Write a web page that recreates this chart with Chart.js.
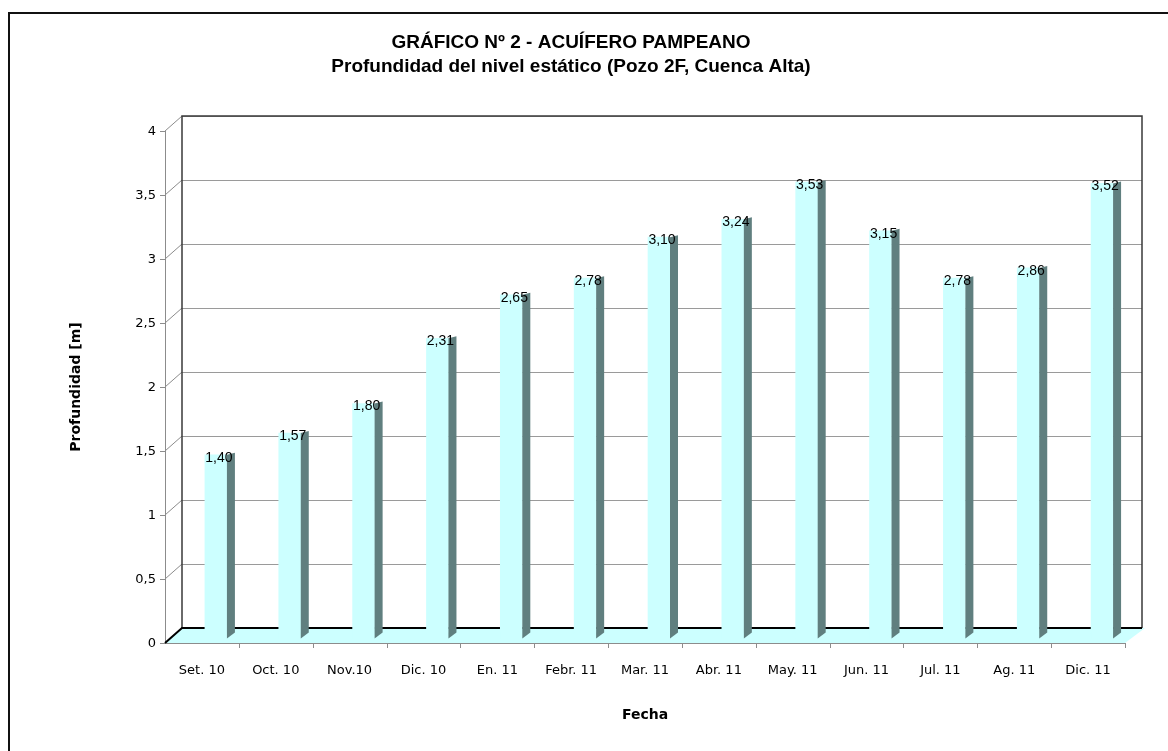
<!DOCTYPE html>
<html>
<head>
<meta charset="utf-8">
<title>Acuífero Pampeano - Pozo 2F</title>
<script src="https://cdn.jsdelivr.net/npm/chart.js@4.4.0/dist/chart.umd.min.js"></script>
<style>
  html, body { margin: 0; padding: 0; background: #fff; }
  canvas { display: block; }
</style>
</head>
<body>
<canvas id="grafico" width="1168" height="751"></canvas>
<script>
const fechas = ['Set. 10', 'Oct. 10', 'Nov.10', 'Dic. 10', 'En. 11', 'Febr. 11', 'Mar. 11',
  'Abr. 11', 'May. 11', 'Jun. 11', 'Jul. 11', 'Ag. 11', 'Dic. 11'];
const profundidad = [1.40, 1.57, 1.80, 2.31, 2.65, 2.78, 3.10, 3.24, 3.53, 3.15, 2.78, 2.86, 3.52];
const titulo = 'GRÁFICO Nº 2 - ACUÍFERO PAMPEANO';
const subtitulo = 'Profundidad del nivel estático (Pozo 2F, Cuenca Alta)';
const tituloEjeY = 'Profundidad [m]';
const tituloEjeX = 'Fecha';

const coma = v => String(v).replace('.', ',');

// desplazamiento pared del fondo -> frente (falso 3D)
const DX = -17, DY = 15;
// las barras quedan a media profundidad
const BAR_DX = -3, BAR_DY = 6;
const LADO = 8;

const efecto3d = {
  id: 'efecto3d',
  beforeDraw(chart) {
    const ctx = chart.ctx;
    ctx.save();
    ctx.fillStyle = '#fff';
    ctx.fillRect(0, 0, chart.width, chart.height);
    // marco exterior (solo izquierda y arriba quedan dentro de la imagen)
    ctx.strokeStyle = '#111';
    ctx.lineWidth = 2;
    ctx.beginPath();
    ctx.moveTo(9, chart.height);
    ctx.lineTo(9, 13);
    ctx.lineTo(chart.width, 13);
    ctx.stroke();
    ctx.restore();
  },
  beforeDatasetsDraw(chart) {
    const ctx = chart.ctx;
    const { left, right, top, bottom } = chart.chartArea;
    const y = chart.scales.y;
    const n = fechas.length;
    const paso = (right - left) / n;

    ctx.save();
    // piso
    ctx.fillStyle = '#ccffff';
    ctx.beginPath();
    ctx.moveTo(left, bottom);
    ctx.lineTo(right + 3, bottom);
    ctx.lineTo(right + DX, bottom + DY);
    ctx.lineTo(left + DX, bottom + DY);
    ctx.closePath();
    ctx.fill();

    // pared izquierda: eje frontal y uniones
    ctx.strokeStyle = '#8c8c8c';
    ctx.lineWidth = 1;
    ctx.beginPath();
    ctx.moveTo(left + DX + 0.5, y.getPixelForValue(4) + DY);
    ctx.lineTo(left + DX + 0.5, bottom + DY);
    y.ticks.forEach(t => {
      const py = y.getPixelForValue(t.value);
      ctx.moveTo(left + DX - 5, py + DY + 0.5);
      ctx.lineTo(left + DX, py + DY + 0.5);
      if (t.value > 0) {
        ctx.moveTo(left + DX, py + DY);
        ctx.lineTo(left, py);
      }
    });
    // eje x frontal
    ctx.moveTo(left + DX, bottom + DY + 0.5);
    ctx.lineTo(right + DX, bottom + DY + 0.5);
    for (let k = 1; k <= n; k++) {
      const px = Math.round(left + DX + k * paso) + 0.5;
      ctx.moveTo(px, bottom + DY);
      ctx.lineTo(px, bottom + DY + 5);
    }
    ctx.stroke();

    // marco de la pared del fondo
    ctx.strokeStyle = '#3a3a3a';
    ctx.lineWidth = 1.5;
    ctx.beginPath();
    ctx.moveTo(left, bottom);
    ctx.lineTo(left, top);
    ctx.lineTo(right, top);
    ctx.lineTo(right, bottom);
    ctx.stroke();
    ctx.strokeStyle = '#000';
    ctx.lineWidth = 2;
    ctx.beginPath();
    ctx.moveTo(left + DX, bottom + DY);
    ctx.lineTo(left, bottom);
    ctx.lineTo(right, bottom);
    ctx.stroke();
    ctx.restore();

    ctx.save();
    ctx.translate(BAR_DX, BAR_DY);
  },
  afterDatasetsDraw(chart) {
    const ctx = chart.ctx;
    const meta = chart.getDatasetMeta(0);
    meta.data.forEach((bar, i) => {
      const { x, y, base, width } = bar.getProps(['x', 'y', 'base', 'width'], true);
      const xr = x + width / 2;
      ctx.fillStyle = '#ccffff';
      ctx.fillRect(x - width / 2, base - 1, width, 6);
      ctx.fillStyle = '#607f7f';
      ctx.beginPath();
      ctx.moveTo(xr, y);
      ctx.lineTo(xr + LADO, y - 2);
      ctx.lineTo(xr + LADO, base - 1);
      ctx.lineTo(xr, base + 5);
      ctx.closePath();
      ctx.fill();
    });
    ctx.fillStyle = '#000';
    ctx.font = '14px "Liberation Sans", Arial, sans-serif';
    ctx.textAlign = 'center';
    ctx.textBaseline = 'middle';
    meta.data.forEach((bar, i) => {
      ctx.fillText(profundidad[i].toFixed(2).replace('.', ','), bar.x + 3, bar.y + 3);
    });
    ctx.restore();
  },
  afterDraw(chart) {
    const ctx = chart.ctx;
    const { left, right, top, bottom } = chart.chartArea;
    ctx.save();
    ctx.fillStyle = '#000';
    ctx.font = 'bold 14px "DejaVu Sans", sans-serif';
    ctx.textAlign = 'center';
    ctx.textBaseline = 'middle';
    ctx.fillText(tituloEjeX, (left + right) / 2 + DX, 715);
    ctx.translate(76, (top + bottom) / 2 + DY);
    ctx.rotate(-Math.PI / 2);
    ctx.fillText(tituloEjeY, 0, 0);
    ctx.restore();
  }
};

new Chart(document.getElementById('grafico'), {
  type: 'bar',
  data: {
    labels: fechas,
    datasets: [{
      label: tituloEjeY,
      data: profundidad,
      backgroundColor: '#ccffff',
      borderWidth: 0,
      barThickness: 22,
      clip: false
    }]
  },
  options: {
    responsive: false,
    animation: false,
    events: [],
    layout: { padding: { left: 0, right: 26, top: 0, bottom: 0 } },
    plugins: {
      legend: { display: false },
      tooltip: { enabled: false },
      title: {
        display: true,
        text: titulo,
        color: '#000',
        font: { family: '"Liberation Sans", Arial, sans-serif', size: 19, weight: 'bold' },
        padding: { top: 31, bottom: 0 }
      },
      subtitle: {
        display: true,
        text: subtitulo,
        color: '#000',
        font: { family: '"Liberation Sans", Arial, sans-serif', size: 19, weight: 'bold' },
        padding: { top: 2, bottom: 37.4 }
      }
    },
    scales: {
      x: {
        grid: { display: false, drawTicks: false },
        border: { display: false },
        ticks: {
          color: '#000',
          padding: 35,
          labelOffset: DX,
          maxRotation: 0,
          autoSkip: false,
          font: { family: '"DejaVu Sans", sans-serif', size: 13 }
        },
        afterFit(scale) { scale.height = 123; }
      },
      y: {
        min: 0,
        max: 4,
        grid: { color: '#9a9a9a', lineWidth: 1, drawTicks: false },
        border: { display: false },
        ticks: {
          stepSize: 0.5,
          color: '#000',
          padding: 26,
          labelOffset: DY + 1,
          font: { family: '"DejaVu Sans", sans-serif', size: 13 },
          callback: v => coma(v)
        },
        afterFit(scale) { scale.width = 182; }
      }
    }
  },
  plugins: [efecto3d]
});
</script>
</body>
</html>
